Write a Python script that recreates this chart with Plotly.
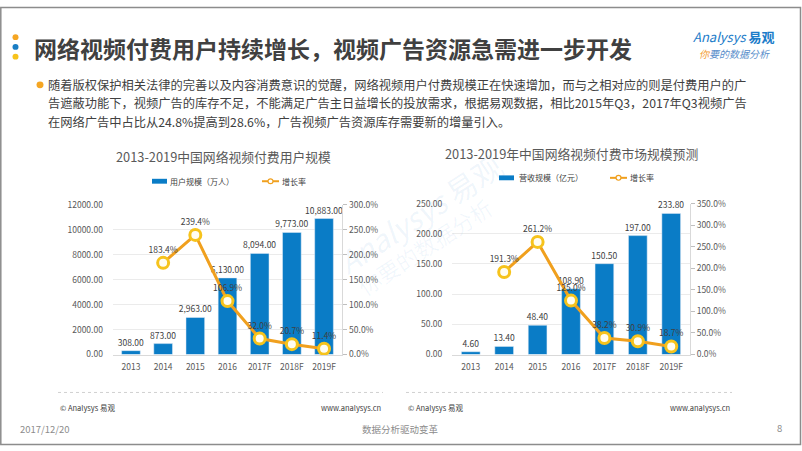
import plotly.graph_objects as go

# ---------------- data ----------------
years = ["2013", "2014", "2015", "2016", "2017F", "2018F", "2019F"]
users = [308.00, 873.00, 2963.00, 6130.00, 8094.00, 9773.00, 10883.00]          # 万人
user_growth = [None, 183.4, 239.4, 106.9, 32.0, 20.7, 11.4]                      # %
revenue = [4.60, 13.40, 48.40, 108.90, 150.50, 197.00, 233.80]                   # 亿元
revenue_growth = [None, 191.3, 261.2, 125.0, 38.2, 30.9, 18.7]                   # %

title_main = "网络视频付费用户持续增长，视频广告资源急需进一步开发"
para_lines = [
    "随着版权保护相关法律的完善以及内容消费意识的觉醒，网络视频用户付费规模正在快速增加，而与之相对应的则是付费用户的广",
    "告遮蔽功能下，视频广告的库存不足，不能满足广告主日益增长的投放需求，根据易观数据，相比2015年Q3，2017年Q3视频广告",
    "在网络广告中占比从24.8%提高到28.6%，广告视频广告资源库存需要新的增量引入。",
]
left_title = "2013-2019中国网络视频付费用户规模"
right_title = "2013-2019年中国网络视频付费市场规模预测"
left_bar_name = "用户规模（万人）"
right_bar_name = "营收规模（亿元）"
line_name = "增长率"

# ---------------- style ----------------
W, H = 802, 451
FONT = "Noto Sans CJK SC, Microsoft YaHei, sans-serif"
BLUE = "#0A7CC6"
ORANGE = "#F0A01E"
RING = "#F6C31C"
TXT = "#404040"
AX = "#595959"


def px(x):
    return x / W


def py(y):
    return 1 - y / H


fig = go.Figure()

# left chart
fig.add_trace(go.Bar(
    x=years, y=users, xaxis="x", yaxis="y", marker_color=BLUE, width=0.58,
    text=[f"{v:,.2f}" for v in users], textposition="outside", constraintext="none",
    textfont=dict(size=8.5, color=TXT, family=FONT), cliponaxis=False,
    showlegend=False, hoverinfo="skip"))
fig.add_trace(go.Scatter(
    x=years, y=user_growth, xaxis="x", yaxis="y2", mode="lines+markers+text",
    text=["" if v is None else f"{v:.1f}%" for v in user_growth],
    textposition="top center", textfont=dict(size=8.5, color=TXT, family=FONT),
    line=dict(color=ORANGE, width=3),
    marker=dict(size=11, color="#FFFDF2", line=dict(color=RING, width=3)),
    cliponaxis=False, showlegend=False, hoverinfo="skip"))

# right chart
fig.add_trace(go.Bar(
    x=years, y=revenue, xaxis="x2", yaxis="y3", marker_color=BLUE, width=0.56,
    text=[f"{v:,.2f}" for v in revenue], textposition="outside", constraintext="none",
    textfont=dict(size=8.5, color=TXT, family=FONT), cliponaxis=False,
    showlegend=False, hoverinfo="skip"))
fig.add_trace(go.Scatter(
    x=years, y=revenue_growth, xaxis="x2", yaxis="y4", mode="lines+markers+text",
    text=["" if v is None else f"{v:.1f}%" for v in revenue_growth],
    textposition="top center", textfont=dict(size=8.5, color=TXT, family=FONT),
    line=dict(color=ORANGE, width=3),
    marker=dict(size=11, color="#FFFDF2", line=dict(color=RING, width=3)),
    cliponaxis=False, showlegend=False, hoverinfo="skip"))

tickfont = dict(size=8.5, color=AX, family=FONT)

xcommon = dict(type="category", showgrid=False, showline=True, linecolor="#D9D9D9",
               ticks="outside", ticklen=4, tickcolor="rgba(0,0,0,0)", tickfont=tickfont,
               fixedrange=True)
ylcommon = dict(showgrid=True, gridcolor="#EBEBEB", zeroline=False, tickformat=".2f",
                ticks="outside", ticklen=7, tickcolor="rgba(0,0,0,0)", tickfont=tickfont,
                fixedrange=True)
yrcommon = dict(side="right", showgrid=False, zeroline=False, tickformat=".1f", ticksuffix="%",
                ticks="outside", ticklen=4, tickcolor="#BFBFBF", showline=True,
                linecolor="#D9D9D9", tickfont=tickfont, fixedrange=True)

fig.update_layout(
    width=W, height=H, autosize=False,
    margin=dict(l=0, r=0, t=0, b=0, pad=0),
    paper_bgcolor="white", plot_bgcolor="white",
    font=dict(family=FONT, color=TXT),
    xaxis=dict(domain=[px(112.6), px(342.4)], anchor="y", **xcommon),
    yaxis=dict(domain=[py(357), py(203)], anchor="x", range=[0, 12000], dtick=2000, **ylcommon),
    yaxis2=dict(overlaying="y", anchor="x", range=[0, 300], dtick=50, **yrcommon),
    xaxis2=dict(domain=[px(452), px(690)], anchor="y3", **xcommon),
    yaxis3=dict(domain=[py(357), py(202)], anchor="x2", range=[0, 250], dtick=50, **ylcommon),
    yaxis4=dict(overlaying="y3", anchor="x2", range=[0, 350], dtick=50, **yrcommon),
)

ann = []
shapes = []

# frame
shapes.append(dict(type="rect", xref="paper", yref="paper", x0=px(0.8), x1=px(800.5),
                   y0=py(449.5), y1=py(0.5), line=dict(color="#8C8C8C", width=1.5)))

# title dots
for yy, col in [(31, "#F5A623"), (41, "#1A7DC4"), (51, "#F7C21B")]:
    shapes.append(dict(type="circle", xref="paper", yref="paper",
                       x0=px(12.5), x1=px(18.5), y0=py(yy + 3), y1=py(yy - 3),
                       fillcolor=col, line=dict(width=0)))

ann.append(dict(text=f"<b>{title_main}</b>", x=px(32), y=py(42), xref="paper", yref="paper",
                xanchor="left", yanchor="middle", showarrow=False,
                font=dict(size=23, color="#404040", family=FONT)))

# logo
ann.append(dict(text="<i>Analysys</i> <b>易观</b>", x=px(691), y=py(30), xref="paper", yref="paper",
                xanchor="left", yanchor="middle", showarrow=False,
                font=dict(size=13, color="#1C7CC9", family=FONT)))
ann.append(dict(text="<i><span style='color:#F29A2E'>你</span>要的数据分析</i>", x=px(697), y=py(47.5),
                xref="paper", yref="paper", xanchor="left", yanchor="middle", showarrow=False,
                font=dict(size=10, color="#5A8FCB", family=FONT)))

# paragraph
shapes.append(dict(type="circle", xref="paper", yref="paper",
                   x0=px(36.5), x1=px(43.5), y0=py(83.5), y1=py(76.5),
                   fillcolor="#F5A623", line=dict(width=0)))
for i, line in enumerate(para_lines):
    ann.append(dict(text=line, x=px(46), y=py(80 + i * 19), xref="paper", yref="paper",
                    xanchor="left", yanchor="middle", showarrow=False,
                    font=dict(size=12.25, color=TXT, family=FONT)))

# chart titles
ann.append(dict(text=left_title, x=px(223), y=py(154), xref="paper", yref="paper",
                xanchor="center", yanchor="middle", showarrow=False,
                font=dict(size=12.8, color="#595959", family=FONT)))
ann.append(dict(text=right_title, x=px(571), y=py(151), xref="paper", yref="paper",
                xanchor="center", yanchor="middle", showarrow=False,
                font=dict(size=12.8, color="#595959", family=FONT)))


def legend(x_sw, x_txt, x_line, x_ltxt, yy, name):
    shapes.append(dict(type="rect", xref="paper", yref="paper", x0=px(x_sw), x1=px(x_sw + 15),
                       y0=py(yy + 2.5), y1=py(yy - 2.5), fillcolor=BLUE, line=dict(width=0)))
    ann.append(dict(text=name, x=px(x_txt), y=py(yy), xref="paper", yref="paper",
                    xanchor="left", yanchor="middle", showarrow=False,
                    font=dict(size=8, color=TXT, family=FONT)))
    shapes.append(dict(type="line", xref="paper", yref="paper", x0=px(x_line), x1=px(x_line + 17),
                       y0=py(yy), y1=py(yy), line=dict(color=ORANGE, width=2)))
    shapes.append(dict(type="circle", xref="paper", yref="paper",
                       x0=px(x_line + 6), x1=px(x_line + 11), y0=py(yy + 2.5), y1=py(yy - 2.5),
                       fillcolor="white", line=dict(color=ORANGE, width=1.2)))
    ann.append(dict(text=line_name, x=px(x_ltxt), y=py(yy), xref="paper", yref="paper",
                    xanchor="left", yanchor="middle", showarrow=False,
                    font=dict(size=8, color=TXT, family=FONT)))


legend(152, 167.5, 262, 279.5, 179, left_bar_name)
legend(499, 516.5, 610, 627.5, 175.5, right_bar_name)

# watermark
ann.append(dict(text="<i>Analysys</i> 易观", x=px(420), y=py(212), xref="paper", yref="paper",
                xanchor="center", yanchor="middle", showarrow=False, textangle=-33,
                font=dict(size=30, color="rgba(30,125,200,0.07)", family=FONT)))
ann.append(dict(text="你要的数据分析", x=px(425), y=py(246), xref="paper", yref="paper",
                xanchor="center", yanchor="middle", showarrow=False, textangle=-33,
                font=dict(size=22, color="rgba(30,125,200,0.06)", family=FONT)))

# chart footers
for x0, x1 in [(58, 383), (406, 732)]:
    shapes.append(dict(type="line", xref="paper", yref="paper", x0=px(x0), x1=px(x1),
                       y0=py(396), y1=py(396), line=dict(color="#D0D0D0", width=1, dash="dot")))
    ann.append(dict(text="© Analysys 易观", x=px(x0), y=py(411.5), xref="paper", yref="paper",
                    xanchor="left", yanchor="middle", showarrow=False,
                    font=dict(size=7.5, color=TXT, family=FONT)))
    ann.append(dict(text="www.analysys.cn", x=px(x1), y=py(411.5), xref="paper", yref="paper",
                    xanchor="right", yanchor="middle", showarrow=False,
                    font=dict(size=7.5, color=TXT, family=FONT)))

# page footer
ann.append(dict(text="2017/12/20", x=px(18), y=py(434), xref="paper", yref="paper",
                xanchor="left", yanchor="middle", showarrow=False,
                font=dict(size=9.5, color="#8C8C8C", family=FONT)))
ann.append(dict(text="数据分析驱动变革", x=px(400), y=py(434), xref="paper", yref="paper",
                xanchor="center", yanchor="middle", showarrow=False,
                font=dict(size=9.5, color="#8C8C8C", family=FONT)))
ann.append(dict(text="8", x=px(779), y=py(433), xref="paper", yref="paper",
                xanchor="center", yanchor="middle", showarrow=False,
                font=dict(size=9.5, color="#8C8C8C", family=FONT)))

fig.update_layout(annotations=ann, shapes=shapes)

fig.write_html("out.html", config={"displayModeBar": False, "staticPlot": True},
               post_script="document.body.style.margin='0';document.body.style.padding='0';")
